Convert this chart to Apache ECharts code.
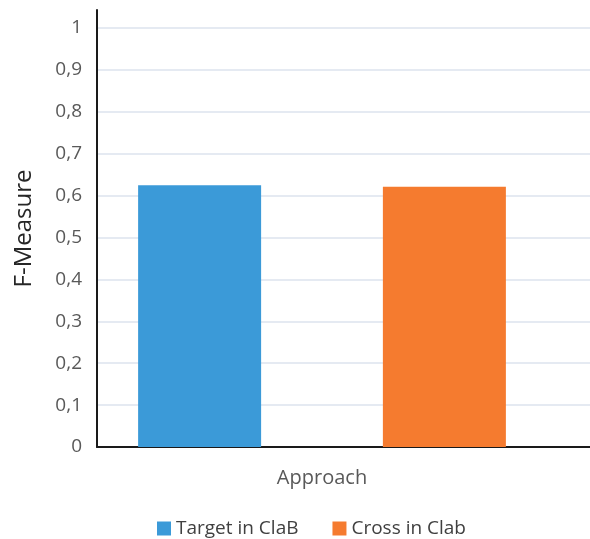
<!DOCTYPE html>
<html>
<head>
<meta charset="utf-8">
<script src="https://cdn.jsdelivr.net/npm/echarts@6/dist/echarts.min.js"></script>
<style>
html,body{margin:0;padding:0;background:#fff;}
#chart{width:590px;height:539px;}
</style>
</head>
<body>
<div id="chart"></div>
<script>
var categories = ['Approach'];
var seriesNames = ['Target in ClaB', 'Cross in Clab'];
var targetValues = [0.625];
var crossValues = [0.621];
var yTicks = [0, 0.1, 0.2, 0.3, 0.4, 0.5, 0.6, 0.7, 0.8, 0.9, 1];

var myEchart = echarts.init(document.getElementById('chart'));
var font = '"Open Sans", "Noto Sans", sans-serif';

var option = {
    animation: false,
    textStyle: { fontFamily: font },
    legend: {
        top: 514,
        left: 152,
        itemWidth: 14,
        itemHeight: 14,
        itemGap: 34,
        icon: 'rect',
        textStyle: { color: '#404040', fontSize: 19, fontFamily: font },
        data: seriesNames
    },
    grid: [
        // gridlines + labels
        { left: 97, right: 0, top: 28, bottom: 92 },
        // bars
        { left: 97, right: 43, top: 28, bottom: 92 },
        // tall y axis line + axis name
        { left: 97, right: 0, top: 10, bottom: 92 }
    ],
    xAxis: [{
        gridIndex: 0,
        type: 'category',
        data: [''],
        axisLine: { show: true, lineStyle: { color: '#1a1a1a', width: 2 } },
        axisTick: { show: false },
        axisLabel: { show: false }
    }, {
        gridIndex: 1,
        type: 'category',
        data: categories,
        axisLine: { show: false },
        axisTick: { show: false },
        axisLabel: { color: '#595959', fontSize: 20, margin: 21, fontFamily: font }
    }, {
        gridIndex: 2,
        type: 'category',
        data: [''],
        show: false
    }],
    yAxis: [{
        gridIndex: 0,
        type: 'value',
        min: 0,
        max: 1,
        interval: 0.1,
        axisLine: { show: false },
        axisTick: { show: false },
        axisLabel: {
            color: '#595959',
            fontSize: 19,
            margin: 15,
            fontFamily: font,
            formatter: function (value) {
                if (yTicks.indexOf(Math.round(value * 10) / 10) < 0) return '';
                var s = (Math.round(value * 10) / 10).toString();
                return s.replace('.', ',');
            }
        },
        splitLine: { show: true, lineStyle: { color: '#dce3ee', width: 1.5 } }
    }, {
        gridIndex: 1,
        type: 'value',
        min: 0,
        max: 1,
        show: false
    }, {
        gridIndex: 2,
        type: 'value',
        min: 0,
        max: 1,
        name: 'F-Measure',
        nameLocation: 'middle',
        nameGap: 61,
        nameTextStyle: { color: '#262626', fontSize: 24, fontFamily: font },
        axisLine: { show: true, lineStyle: { color: '#1a1a1a', width: 2 } },
        axisTick: { show: false },
        axisLabel: { show: false },
        splitLine: { show: false }
    }],
    series: [{
        name: seriesNames[0],
        type: 'bar',
        xAxisIndex: 1,
        yAxisIndex: 1,
        data: targetValues,
        barWidth: 123,
        barGap: '99%',
        itemStyle: { color: '#3b9ad8' }
    }, {
        name: seriesNames[1],
        type: 'bar',
        xAxisIndex: 1,
        yAxisIndex: 1,
        data: crossValues,
        barWidth: 123,
        itemStyle: { color: '#f57b2f' }
    }]
};
myEchart.setOption(option);
</script>
</body>
</html>
